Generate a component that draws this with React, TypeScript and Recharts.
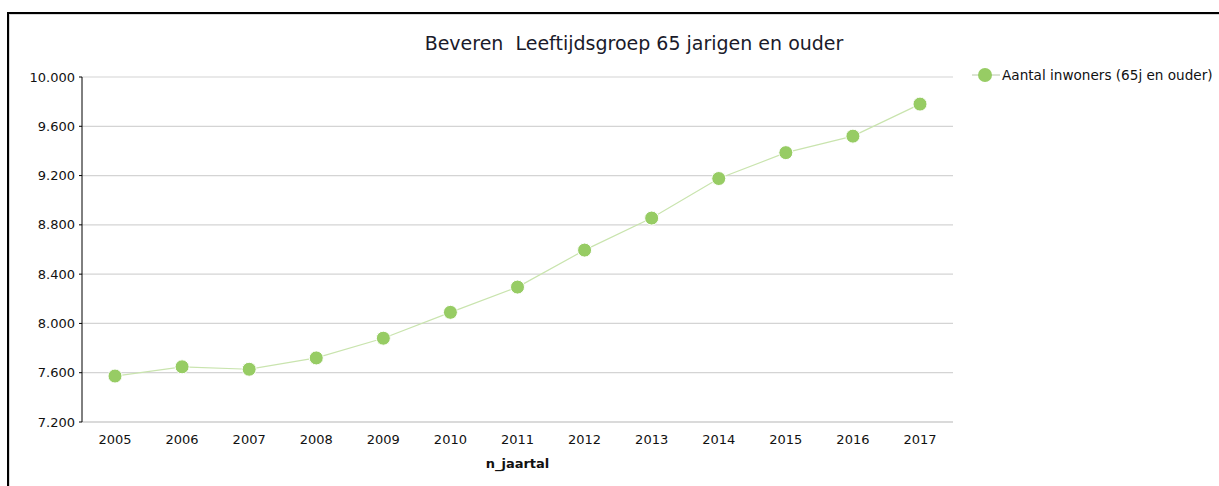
import React from 'react';
import { LineChart, Line, XAxis, YAxis, CartesianGrid } from 'recharts';

const years = ['2005', '2006', '2007', '2008', '2009', '2010', '2011', '2012', '2013', '2014', '2015', '2016', '2017'];
const inwoners = [7573, 7648, 7628, 7720, 7880, 8090, 8295, 8595, 8855, 9176, 9386, 9520, 9780];
const yTicks = [7200, 7600, 8000, 8400, 8800, 9200, 9600, 10000];
const seriesName = 'Aantal inwoners (65j en ouder)';
const title = 'Beveren  Leeftijdsgroep 65 jarigen en ouder';
const xLabel = 'n_jaartal';

const data = years.map((y, i) => ({ year: y, value: inwoners[i] }));

const fmt = (v: number) => {
  const s = String(Math.round(v));
  return s.replace(/\B(?=(\d{3})+(?!\d))/g, '.');
};

const FONT = '"DejaVu Sans", Verdana, sans-serif';
const DOT = '#97cc64';
const LINE = '#c9e4ae';
const TXT = '#111111';

export default function App() {
  return (
    <div style={{ position: 'absolute', left: 0, top: 0, width: 1219, height: 486, background: '#fff', overflow: 'hidden' }}>
      <div style={{ position: 'absolute', left: 7, top: 12, width: 1230, height: 500, borderTop: '2px solid #000', borderLeft: '2px solid #000', boxShadow: 'inset 1px 1px 0 #d8d8d8' }} />
      <div style={{ position: 'absolute', left: -4, top: 32, width: 1276, textAlign: 'center', fontFamily: FONT, fontSize: 19, color: '#1a1a2a', whiteSpace: 'pre' }}>
        {title}
      </div>
      <div style={{ position: 'absolute', left: 972, top: 67, display: 'flex', alignItems: 'center', fontFamily: FONT, fontSize: 13.6, color: TXT, whiteSpace: 'nowrap' }}>
        <svg width={28} height={16} style={{ marginRight: 2 }}>
          <line x1={0} y1={8} x2={28} y2={8} stroke="#b8c8a8" strokeWidth={1} />
          <circle cx={13} cy={8} r={7} fill={DOT} />
        </svg>
        <span>{seriesName}</span>
      </div>
      <div style={{ position: 'absolute', left: 0, top: 0 }}>
        <LineChart width={1219} height={486} data={data} margin={{ top: 77, right: 266, bottom: 0, left: 0 }}>
          <CartesianGrid vertical={false} stroke="#d4d4d4" strokeWidth={1.2} />
          <XAxis
            dataKey="year"
            tickLine={false}
            padding={{ left: 33, right: 33 }}
            axisLine={{ stroke: '#d4d4d4', strokeWidth: 1.5 }}
            tick={{ fontFamily: FONT, fontSize: 13, fill: TXT }}
            tickMargin={7}
            height={64}
            label={{ value: xLabel, position: 'insideBottom', offset: 18, style: { fontFamily: FONT, fontSize: 13, fontWeight: 'bold', fill: TXT } }}
          />
          <YAxis
            width={82}
            domain={[7200, 10000]}
            ticks={yTicks}
            interval={0}
            tickFormatter={fmt}
            axisLine={{ stroke: '#000', strokeWidth: 1 }}
            tickLine={{ stroke: '#000' }}
            tickSize={3}
            tickMargin={4}
            tick={{ fontFamily: FONT, fontSize: 13, fill: TXT }}
          />
          <Line
            type="linear"
            dataKey="value"
            name={seriesName}
            stroke={LINE}
            strokeWidth={1.2}
            dot={{ r: 7, fill: DOT, stroke: '#ffffff', strokeWidth: 1 }}
            activeDot={false}
            isAnimationActive={false}
          />
        </LineChart>
      </div>
    </div>
  );
}
